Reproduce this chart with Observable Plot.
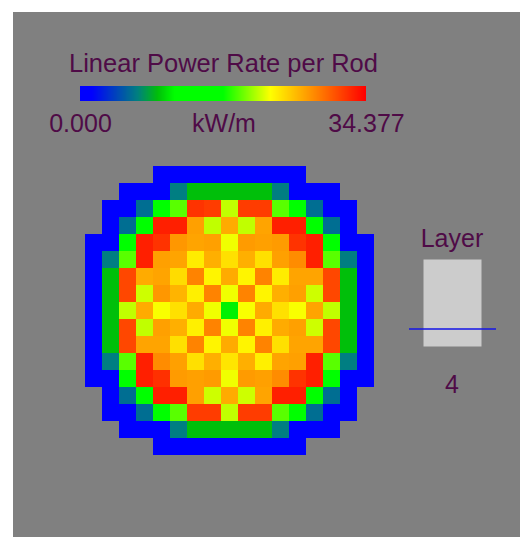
<!DOCTYPE html>
<html>
<head>
<meta charset="utf-8">
<script src="https://cdn.jsdelivr.net/npm/d3@7"></script>
<script src="https://cdn.jsdelivr.net/npm/@observablehq/plot@0.6"></script>
<style>
  html, body { margin: 0; padding: 0; background: #ffffff; }
  #page { position: relative; width: 531px; height: 550px; background: #ffffff; overflow: hidden; }
  #panel { position: absolute; left: 13px; top: 12px; width: 507px; height: 525px; background: #808080; }
  .abs { position: absolute; }
  .txt { position: absolute; font-family: "Liberation Sans", Arial, sans-serif; font-size: 25px; line-height: 25px;
         color: #4f0b47; text-align: center; white-space: nowrap; }
  .cbar line { display: none; }
  svg { background: transparent !important; }
</style>
</head>
<body>
<div id="page">
  <div id="panel"></div>
  <div id="title" class="txt" style="left:23.5px; top:50.5px; width:400px; font-size:25.5px;"></div>
  <div id="cbar" class="abs cbar" style="left:40px; top:86px;"></div>
  <div id="unit" class="txt" style="left:124px; top:110.8px; width:200px;"></div>
  <div id="heat" class="abs" style="left:85px; top:166px;"></div>
  <div id="layerTitle" class="txt" style="left:402px; top:225.5px; width:100px;"></div>
  <div id="layerBox" class="abs" style="left:409px; top:259px;"></div>
  <div id="layerNum" class="txt" style="left:402px; top:371.8px; width:100px;"></div>
</div>
<script>
// ---- texts ----
const chartTitle = "Linear Power Rate per Rod";
const unitLabel = "kW/m";
const layerLabel = "Layer";

// ---- colour bar ----
const minValue = 0;
const maxValue = 34.377;
const colorbarTicks = [0, 34.377];
const colorbarTickLabels = ["0.000", "34.377"];
const colormapStops = [0, 0.04, 0.2, 0.27, 0.33, 0.5, 0.667, 1];
const colormapColors = ["#0000ff", "#0000ff", "#008080", "#00be0a", "#00ff00", "#00ff00", "#ffff00", "#ff0000"];

// ---- layer indicator ----
const layerCount = 20;
const currentLayer = 4;

// ---- rod power grid (kW/m), 17 x 17, null = outside core ----
const n = null;
const row00 = [n, n, n, n, 0, 0, 0, 0, 0, 0, 0, 0, 0, n, n, n, n];
const row01 = [n, n, 0, 0, 0, 6.8, 9.3, 9.3, 9.3, 9.3, 9.3, 6.8, 0, 0, 0, n, n];
const row02 = [n, 0, 0, 6.1, 13.8, 19.2, 32.1, 31.7, 21.5, 31.7, 31.7, 19.2, 13.8, 6.1, 0, 0, n];
const row03 = [n, 0, 6.1, 13.8, 33.0, 33.0, 27.2, 21.5, 26.7, 21.5, 27.0, 33.0, 33.0, 13.8, 6.1, 0, n];
const row04 = [0, 0, 13.8, 33.0, 32.1, 27.6, 27.0, 27.2, 22.6, 27.4, 27.2, 27.4, 32.1, 33.0, 13.8, 0, 0];
const row05 = [0, 6.8, 19.2, 33.0, 27.2, 27.0, 23.8, 26.5, 24.3, 26.5, 24.3, 27.2, 28.1, 33.0, 19.2, 6.8, 0];
const row06 = [0, 9.3, 31.2, 26.7, 27.0, 24.5, 28.5, 23.4, 26.7, 23.4, 28.5, 23.8, 27.0, 27.0, 31.2, 9.3, 0];
const row07 = [0, 9.3, 31.2, 21.8, 27.6, 26.3, 23.6, 28.5, 22.6, 28.5, 23.4, 26.5, 27.2, 21.8, 31.2, 9.3, 0];
const row08 = [0, 9.3, 21.5, 26.7, 22.8, 24.3, 26.7, 22.6, 10.9, 22.8, 26.7, 24.3, 22.8, 27.0, 21.5, 9.3, 0];
const row09 = [0, 9.3, 31.2, 21.5, 27.2, 26.5, 23.6, 28.5, 22.6, 28.5, 23.6, 26.7, 27.2, 21.8, 31.2, 9.3, 0];
const row10 = [0, 9.3, 31.2, 27.0, 27.0, 24.3, 28.5, 23.4, 26.7, 23.4, 28.5, 24.3, 27.0, 27.0, 31.2, 9.3, 0];
const row11 = [0, 6.8, 19.2, 33.0, 28.1, 27.2, 24.3, 26.5, 24.1, 26.5, 23.6, 27.0, 27.2, 33.0, 19.2, 6.8, 0];
const row12 = [0, 0, 13.8, 33.0, 32.2, 27.4, 27.2, 27.4, 22.6, 27.4, 27.2, 28.1, 32.1, 33.0, 13.8, 0, 0];
const row13 = [n, 0, 6.1, 13.8, 33.0, 33.0, 27.2, 21.8, 26.7, 21.8, 27.0, 33.0, 33.0, 13.8, 6.1, 0, n];
const row14 = [n, 0, 0, 6.1, 13.8, 19.2, 31.7, 31.7, 21.5, 31.7, 31.7, 19.2, 13.8, 6.1, 0, 0, n];
const row15 = [n, n, 0, 0, 0, 6.8, 9.3, 9.3, 9.3, 9.3, 9.3, 6.8, 0, 0, 0, n, n];
const row16 = [n, n, n, n, 0, 0, 0, 0, 0, 0, 0, 0, 0, n, n, n, n];
const gridRows = [row00, row01, row02, row03, row04, row05, row06, row07, row08,
                  row09, row10, row11, row12, row13, row14, row15, row16];

// ---- build ----
const cmapScale = d3.scaleLinear().domain(colormapStops).range(colormapColors)
  .interpolate(d3.interpolateRgb).clamp(true);
const cmap = (t) => cmapScale(t);
const colorOptions = {type: "linear", domain: [minValue, maxValue], interpolate: cmap};

const cells = [];
gridRows.forEach((r, ri) => r.forEach((v, ci) => { if (v !== null) cells.push({row: ri, col: ci, value: v}); }));
const idx = d3.range(gridRows.length);

const font = "'Liberation Sans', Arial, sans-serif";

const heat = Plot.plot({
  width: 289, height: 289,
  marginTop: 0, marginRight: 0, marginBottom: 0, marginLeft: 0,
  x: {type: "band", domain: idx, padding: 0, axis: null},
  y: {type: "band", domain: idx, padding: 0, axis: null},
  color: colorOptions,
  style: {background: "transparent"},
  marks: [
    Plot.cell(cells, {x: "col", y: "row", fill: "value", shapeRendering: "crispEdges"})
  ]
});
document.getElementById("heat").appendChild(heat);

const legend = Plot.legend({
  color: colorOptions,
  label: null,
  width: 406, height: 65,
  marginLeft: 40, marginRight: 80, marginTop: 0, marginBottom: 50,
  tickSize: 10,
  ticks: colorbarTicks,
  tickFormat: (d, i) => colorbarTickLabels[i],
  style: {fontSize: "25px", fontFamily: font, color: "#4f0b47", background: "transparent", overflow: "visible"}
});
document.getElementById("cbar").appendChild(legend);

const layerPlot = Plot.plot({
  width: 87, height: 87,
  marginTop: 0, marginRight: 0, marginBottom: 0, marginLeft: 0,
  x: {domain: [0, 1], axis: null},
  y: {domain: [0, layerCount], axis: null},
  style: {background: "transparent", overflow: "visible"},
  marks: [
    Plot.frame({fill: "#cccccc", stroke: null, insetLeft: 14, insetRight: 15}),
    Plot.ruleY([currentLayer], {stroke: "#1414e6", strokeWidth: 1.5})
  ]
});
document.getElementById("layerBox").appendChild(layerPlot);

document.getElementById("title").textContent = chartTitle;
document.getElementById("unit").textContent = unitLabel;
document.getElementById("layerTitle").textContent = layerLabel;
document.getElementById("layerNum").textContent = String(currentLayer);
</script>
</body>
</html>
